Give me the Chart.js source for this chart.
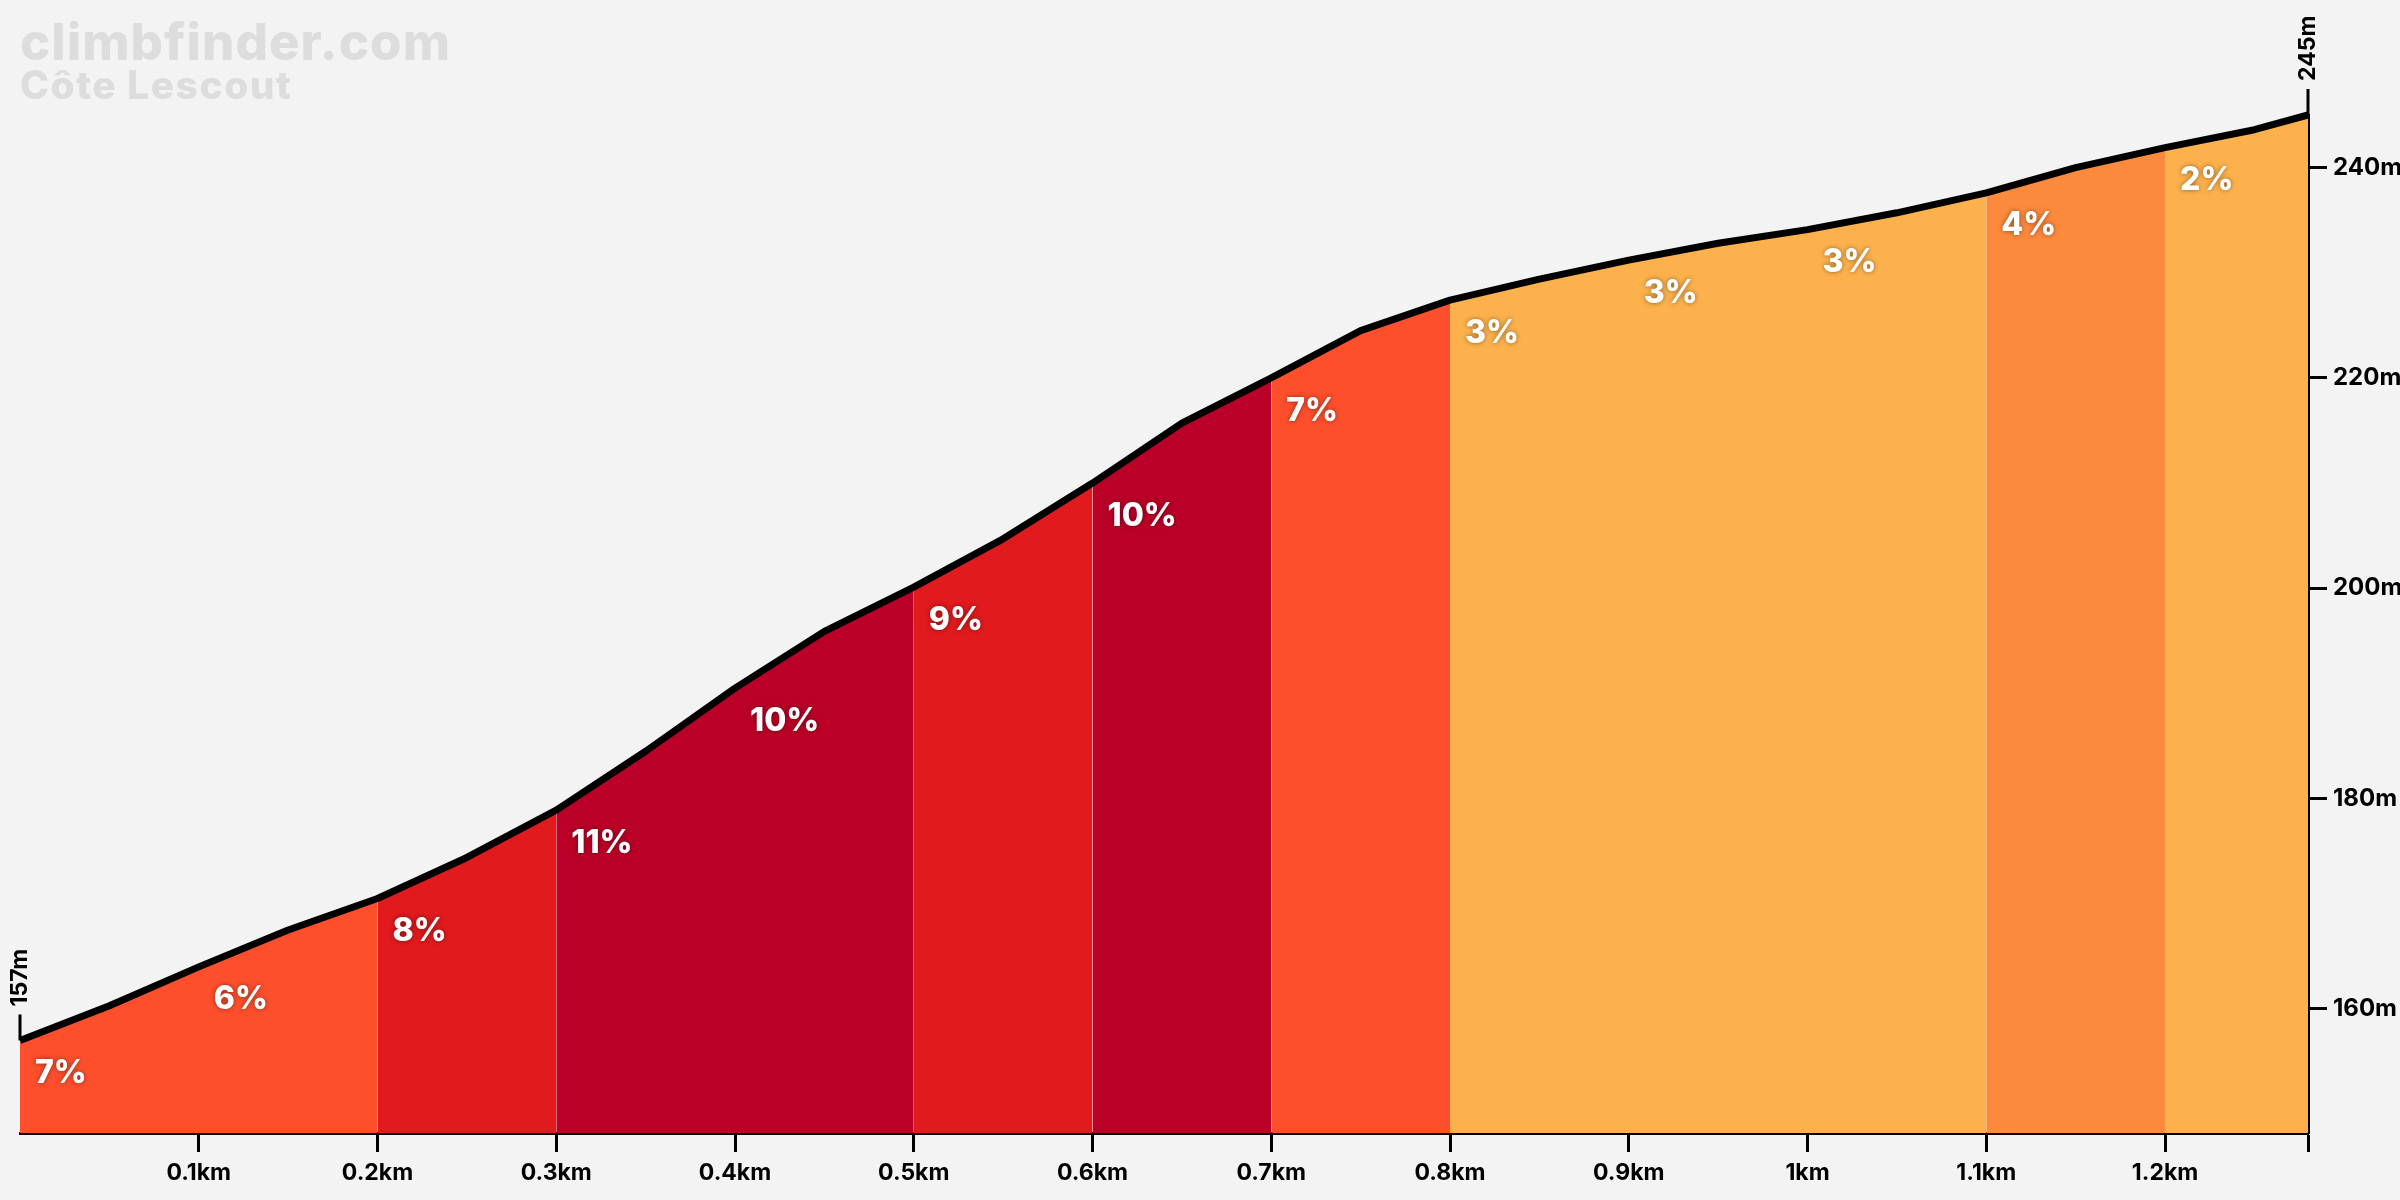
<!DOCTYPE html>
<html>
<head>
<meta charset="utf-8">
<script src="https://cdn.jsdelivr.net/npm/chart.js@4.4.1/dist/chart.umd.min.js"></script>
<style>
    html, body { margin: 0; padding: 0; background: #f3f3f3; }
    canvas { display: block; }
</style>
</head>
<body>
<canvas id="profileChart" width="2400" height="1200"></canvas>
<script>
// profile
const distKm = [0, 0.05, 0.1, 0.15, 0.2, 0.25, 0.3, 0.35, 0.4, 0.45, 0.5, 0.55, 0.6, 0.65,
    0.7, 0.75, 0.8, 0.85, 0.9, 0.95, 1.0, 1.05, 1.1, 1.15, 1.2, 1.25, 1.28];
const elevM = [157, 160.3, 164.0, 167.5, 170.5, 174.4, 178.9, 184.5, 190.5, 195.9, 200.1, 204.7, 210.0, 215.7,
    220.0, 224.5, 227.4, 229.4, 231.2, 232.8, 234.1, 235.7, 237.6, 240.0, 241.9, 243.6, 245];

// sections of 100 m and their gradient
const sectionStart = [0, 0.1, 0.2, 0.3, 0.4, 0.5, 0.6, 0.7, 0.8, 0.9, 1.0, 1.1, 1.2];
const sectionGrade = [7, 6, 8, 11, 10, 9, 10, 7, 3, 3, 3, 4, 2];

const xTicks = [0.1, 0.2, 0.3, 0.4, 0.5, 0.6, 0.7, 0.8, 0.9, 1.0, 1.1, 1.2, 1.28];
const yTicks = [160, 180, 200, 220, 240];

const climbName = 'Côte Lescout';
const FONT = 'Inter, "Noto Sans", sans-serif';

const gradeColor = (g) => {
    if (g >= 10) return '#bb0027';
    if (g >= 8) return '#e01a1d';
    if (g >= 5) return '#fd4f2c';
    if (g >= 4) return '#fc8a3d';
    return '#fdb14c';
};

const endKm = distKm[distKm.length - 1];
const elevAt = (km) => {
    const i = distKm.findIndex(d => Math.abs(d - km) < 1e-6);
    return elevM[i];
};

// neighbouring sections with the same colour share one fill (no seams)
const runs = [];
sectionStart.forEach((s, i) => {
    const e = i + 1 < sectionStart.length ? sectionStart[i + 1] : endKm;
    const color = gradeColor(sectionGrade[i]);
    const last = runs[runs.length - 1];
    if (last && last.color === color) last.end = e;
    else runs.push({start: s, end: e, color});
});

const sectionSets = runs.map(r => {
    const pts = [];
    distKm.forEach((d, k) => {
        if (d >= r.start - 1e-6 && d <= r.end + 1e-6) pts.push({x: d, y: elevM[k]});
    });
    return {
        data: pts,
        backgroundColor: r.color,
        borderWidth: 0,
        pointRadius: 0,
        fill: 'start',
        tension: 0,
        clip: false
    };
});

const lineSet = {
    data: distKm.map((d, k) => ({x: d, y: elevM[k]})),
    borderColor: '#000',
    borderWidth: 7,
    pointRadius: 0,
    fill: false,
    tension: 0,
    clip: false,
    borderJoinStyle: 'round'
};

// labels: title, gradients, start/end heights
const labelPlugin = {
    id: 'labels',
    afterDatasetsDraw(chart) {
        const {ctx, scales: {x, y}} = chart;
        ctx.save();

        // title
        ctx.fillStyle = '#dddddd';
        ctx.textBaseline = 'alphabetic';
        ctx.textAlign = 'left';
        ctx.letterSpacing = '1px';
        ctx.font = `800 51px ${FONT}`;
        ctx.fillText('climbfinder.com', 20, 60);
        ctx.letterSpacing = '1.5px';
        ctx.font = `800 39px ${FONT}`;
        ctx.fillText(climbName, 20, 99);
        ctx.letterSpacing = '0px';

        // gradients
        ctx.font = `800 32px ${FONT}`;
        ctx.textBaseline = 'top';
        ctx.fillStyle = '#fff';
        ctx.shadowColor = 'rgba(0,0,0,0.45)';
        ctx.shadowBlur = 5;
        sectionStart.forEach((s, i) => {
            const px = x.getPixelForValue(s);
            const py = y.getPixelForValue(elevAt(s));
            ctx.fillText(`${sectionGrade[i]}%`, px + 15, py + 17);
        });
        ctx.shadowBlur = 0;
        ctx.shadowColor = 'transparent';

        // start / end markers
        ctx.fillStyle = '#000';
        ctx.strokeStyle = '#000';
        ctx.lineWidth = 3;
        ctx.font = `700 23px ${FONT}`;
        ctx.textBaseline = 'middle';
        ctx.textAlign = 'left';
        [[distKm[0], elevM[0]], [endKm, elevM[elevM.length - 1]]].forEach(([d, e]) => {
            const px = x.getPixelForValue(d);
            const py = y.getPixelForValue(e);
            ctx.beginPath();
            ctx.moveTo(px, py);
            ctx.lineTo(px, py - 26);
            ctx.stroke();
            ctx.save();
            ctx.translate(px, py - 34);
            ctx.rotate(-Math.PI / 2);
            ctx.fillText(`${Math.round(e)}m`, 0, 0);
            ctx.restore();
        });
        ctx.restore();
    }
};

const ctx = document.getElementById('profileChart').getContext('2d');
new Chart(ctx, {
    type: 'line',
    data: {datasets: [lineSet, ...sectionSets]},
    options: {
        responsive: false,
        animation: false,
        devicePixelRatio: 1,
        layout: {padding: {left: 20, top: 115, right: 0, bottom: 0}},
        plugins: {legend: {display: false}, tooltip: {enabled: false}},
        scales: {
            x: {
                type: 'linear',
                min: 0,
                max: endKm,
                afterBuildTicks: (axis) => { axis.ticks = xTicks.map(v => ({value: v})); },
                afterFit: (axis) => { axis.height = 67; },
                grid: {drawOnChartArea: false, drawTicks: true, tickLength: 19, tickWidth: 3, tickColor: '#000'},
                border: {display: true, color: '#000', width: 3},
                ticks: {
                    color: '#000',
                    padding: 7,
                    maxRotation: 0,
                    autoSkip: false,
                    font: {family: FONT, size: 23, weight: 700},
                    callback: (v) => Math.abs(v - endKm) < 1e-6 ? '' : `${+v.toFixed(1)}km`
                }
            },
            y: {
                type: 'linear',
                position: 'right',
                min: 148.2,
                max: 245,
                afterBuildTicks: (axis) => { axis.ticks = yTicks.map(v => ({value: v})); },
                afterFit: (axis) => { axis.width = 92; },
                grid: {drawOnChartArea: false, drawTicks: true, tickLength: 19, tickWidth: 3, tickColor: '#000'},
                border: {display: true, color: '#000', width: 3},
                ticks: {
                    color: '#000',
                    padding: 6,
                    font: {family: FONT, size: 24, weight: 700},
                    callback: (v) => `${v}m`
                }
            }
        }
    },
    plugins: [labelPlugin]
});
</script>
</body>
</html>
